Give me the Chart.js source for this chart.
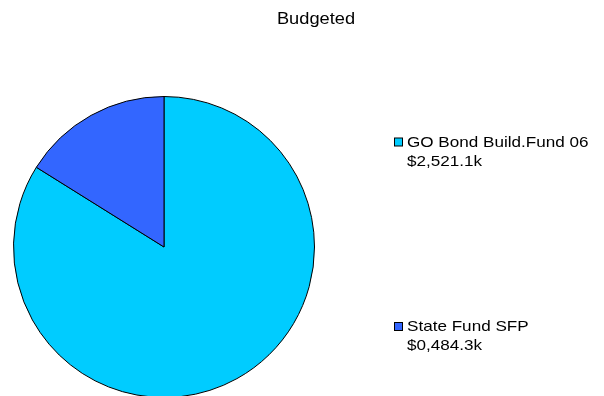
<!DOCTYPE html>
<html>
<head>
<meta charset="utf-8">
<script src="https://cdn.jsdelivr.net/npm/chart.js@4"></script>
<style>
  html, body { margin: 0; padding: 0; background: #fff; overflow: hidden; }
  #wrap { width: 604px; height: 400px; }
</style>
</head>
<body>
<div id="wrap"><canvas id="budgetPie" width="604" height="400"></canvas></div>
<script>
// Budget split by fund source (thousands of dollars)
const funds = ['GO Bond Build.Fund 06', 'State Fund SFP'];
const budgeted = [2521.1, 484.3];
const fundColors = ['#00CCFF', '#3366FF'];
const chartTitle = 'Budgeted';

// $0,484.3k style: integer part padded to four digits
const fmtK = v => {
  const whole = String(Math.floor(v)).padStart(4, '0');
  const dec = v.toFixed(1).split('.')[1];
  return '$' + whole.slice(0, -3) + ',' + whole.slice(-3) + '.' + dec + 'k';
};

const FONT = '"Liberation Sans", Arial, sans-serif';
const WIDEN = 1.14; // text is set a little wide

function wideText(ctx, txt, x, y, align) {
  ctx.save();
  ctx.translate(x, y);
  ctx.scale(WIDEN, 1);
  ctx.textAlign = align;
  ctx.fillText(txt, 0, 0);
  ctx.restore();
}

// title + two-line legend drawn next to the pie
const sideText = {
  id: 'sideText',
  afterDraw(chart) {
    const ctx = chart.ctx;
    const ds = chart.data.datasets[0];
    ctx.save();
    ctx.fillStyle = '#000';
    ctx.textBaseline = 'alphabetic';
    ctx.font = '16px ' + FONT;
    wideText(ctx, chartTitle, 316, 24, 'center');

    const rows = [146.5, 331];
    ctx.font = '15px ' + FONT;
    chart.data.labels.forEach((lab, i) => {
      const y = rows[i];
      ctx.fillStyle = ds.backgroundColor[i];
      ctx.fillRect(394.5, y - 8.5, 8, 8);
      ctx.strokeStyle = '#000';
      ctx.lineWidth = 1;
      ctx.strokeRect(394.5, y - 8.5, 8, 8);
      ctx.fillStyle = '#000';
      wideText(ctx, lab, 407, y, 'left');
      wideText(ctx, fmtK(ds.data[i]), 407, y + 19, 'left');
    });
    ctx.restore();
  }
};

new Chart(document.getElementById('budgetPie'), {
  type: 'pie',
  data: {
    labels: funds,
    datasets: [{
      data: budgeted,
      backgroundColor: fundColors,
      borderColor: '#000',
      borderWidth: 1
    }]
  },
  options: {
    responsive: false,
    animation: false,
    layout: { padding: { left: 13, right: 289, top: 96, bottom: 2 } },
    plugins: {
      legend: { display: false },
      title: { display: false },
      tooltip: { enabled: false }
    }
  },
  plugins: [sideText]
});
</script>
</body>
</html>
